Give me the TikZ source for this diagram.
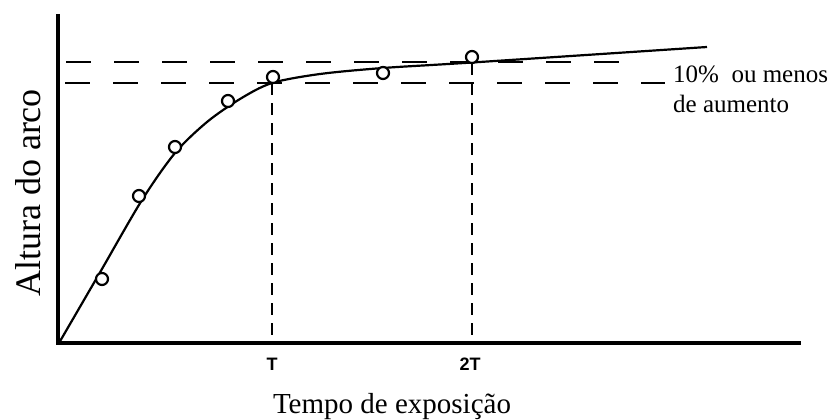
\documentclass[tikz,border=0pt]{standalone}
\usepackage{fontspec}
\setmainfont{Liberation Serif}
\newfontfamily\labsans{Liberation Sans}
\begin{document}
\begin{tikzpicture}[x=1pt,y=-1pt,
  axis/.style={line width=4pt, line join=miter},
  curve/.style={line width=2.2pt},
  hdash/.style={line width=2.2pt, dash pattern=on 25pt off 23pt},
  vdash/.style={line width=2.4pt, dash pattern=on 12pt off 8pt},
  pt/.style={circle, draw, line width=2.2pt, fill=white, minimum size=12pt, inner sep=0pt},
  tlab/.style={font=\labsans\bfseries\fontsize{18}{18}\selectfont, inner sep=0pt},
  txt/.style={inner sep=0pt}]
\useasboundingbox (0,0) rectangle (833,420);
\coordinate (O) at (58,343);
\coordinate (ytop) at (58,14);
\coordinate (xend) at (801,343);
% dashed reference lines
\coordinate (u1) at (66,62);
\coordinate (u2) at (635,62);
\coordinate (l1) at (65,83);
\coordinate (l2) at (665,83);
\draw[hdash] (u1) -- (u2);
\draw[hdash] (l1) -- (l2);
\coordinate (t1) at (272,83);
\coordinate (t1b) at (272,343);
\coordinate (t2) at (472,63);
\coordinate (t2b) at (472,343);
\draw[vdash] (t1) -- (t1b);
\draw[vdash] (t2) -- (t2b);
% curve
\draw[curve] plot[smooth, tension=0.5] coordinates {(59,343) (100,272.4) (142,200) (175,153) (207,122) (240,99) (272,83) (320,74) (383,68) (472,62.5) (707,47)};
% axes
\draw[axis] (ytop) -- (O) -- (xend);
% data points
\node[pt] (p1) at (102,279) {};
\node[pt] (p2) at (139,196) {};
\node[pt] (p3) at (175,147) {};
\node[pt] (p4) at (228,101) {};
\node[pt] (p5) at (273,77) {};
\node[pt] (p6) at (383,73) {};
\node[pt] (p7) at (472,57) {};
% labels
\node[tlab] (T) at (272,364) {T};
\node[tlab] (T2) at (470,364) {2T};
\node[txt, anchor=base, font=\fontsize{29}{29}\selectfont] (xl) at (392,413) {Tempo de exposição};
\node[txt, anchor=base, rotate=90, font=\fontsize{36}{36}\selectfont] (yl) at (40,193) {Altura do arco};
\node[txt, anchor=base west, font=\fontsize{25}{25}\selectfont] (n1) at (673,83) {10\%~~ou menos};
\node[txt, anchor=base west, font=\fontsize{25}{25}\selectfont] (n2) at (673,112) {de aumento};
\end{tikzpicture}
\end{document}
